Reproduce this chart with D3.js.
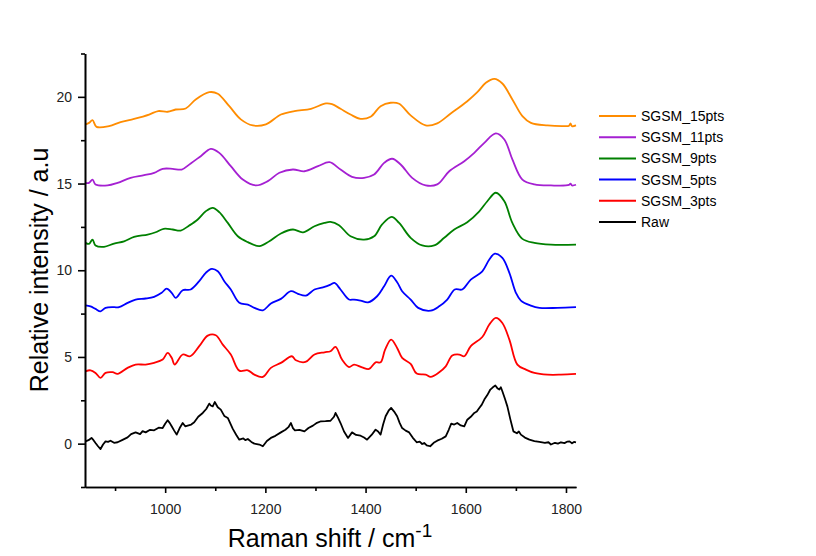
<!DOCTYPE html>
<html lang="en">
<head>
<meta charset="UTF-8">
<title>Raman spectra smoothing</title>
<script src="https://d3js.org/d3.v7.min.js"></script>
<style>
    body { margin: 0; background: #fff; }
    .axis path, .axis line { stroke: #000; stroke-width: 1.6px; }
    .axis text { fill: #222; font-family: "Liberation Sans", Arial, sans-serif; font-size: 14px; }
    .title { font-family: "Liberation Sans", Arial, sans-serif; fill: #000; }
    .legend text { font-family: "Liberation Sans", Arial, sans-serif; font-size: 14px; fill: #000; }
</style>
</head>
<body>
<script>
// wavenumber (cm-1) and relative intensity pairs
const raw = [
  [841,0.13],[847,0.2],[853,0.33],[857,0.2],[861,0.04],[866,-0.15],[871,-0.31],[876,-0.05],[881,0.13],[886,0.1],[891,0.17],[898,0.05],[905,0.08],[915,0.22],[925,0.36],[932,0.55],[941,0.65],[950,0.55],[955,0.72],[961,0.65],
  [970,0.8],[978,0.77],[987,0.92],[995,0.9],[1000,1.15],[1005,1.35],[1009,1.2],[1013,1.0],[1018,0.75],[1023,0.52],[1029,0.9],[1035,1.19],[1040,1.0],[1045,1.04],[1052,1.1],[1058,1.23],[1066,1.55],[1075,1.77],[1082,2.0],[1088,2.31],
  [1091,2.2],[1095,2.15],[1099,2.4],[1105,2.1],[1111,1.96],[1118,1.6],[1125,1.48],[1135,0.85],[1142,0.5],[1148,0.23],[1156,0.3],[1160,0.2],[1165,0.27],[1172,0.1],[1178,0.0],[1188,-0.05],[1195,-0.15],[1203,0.15],[1211,0.33],[1220,0.45],
  [1231,0.65],[1240,0.8],[1246,0.95],[1251,1.19],[1255,0.9],[1259,0.77],[1268,0.8],[1278,0.71],[1286,0.9],[1295,1.04],[1303,1.2],[1311,1.29],[1320,1.3],[1330,1.32],[1337,1.55],[1340,1.77],[1345,1.5],[1350,1.19],[1357,0.7],[1365,0.33],
  [1373,0.65],[1381,0.5],[1390,0.46],[1397,0.35],[1403,0.23],[1412,0.5],[1420,0.81],[1425,0.7],[1430,0.52],[1435,1.1],[1440,1.58],[1446,1.9],[1451,2.06],[1457,1.85],[1463,1.58],[1468,1.2],[1473,0.9],[1480,0.75],[1487,0.65],[1494,0.35],
  [1502,0.08],[1508,0.12],[1513,-0.02],[1517,0.04],[1522,-0.1],[1529,-0.15],[1536,0.05],[1543,0.17],[1552,0.28],[1560,0.42],[1566,0.8],[1571,1.15],[1577,1.1],[1583,1.19],[1590,1.05],[1597,1.0],[1603,1.38],[1610,1.55],[1617,1.77],[1622,1.85],
  [1627,2.06],[1632,2.25],[1637,2.54],[1643,2.8],[1649,3.12],[1654,3.25],[1659,3.35],[1663,3.2],[1667,3.12],[1670,3.25],[1673,3.02],[1678,2.6],[1683,2.15],[1689,1.4],[1695,0.71],[1702,0.6],[1706,0.7],[1710,0.52],[1718,0.35],[1727,0.23],
  [1737,0.15],[1747,0.1],[1758,0.05],[1765,0.08],[1770,-0.05],[1778,0.05],[1784,0.0],[1790,0.08],[1797,0.03],[1803,0.12],[1807,0.13],[1812,0.02],[1816,0.1],[1820,0.08]
]
const sg3 = [
  [841,4.17],[851,4.23],[861,4.08],[871,3.79],[881,4.08],[895,4.12],[905,4.02],[925,4.37],[941,4.56],[961,4.56],
  [978,4.66],[995,4.85],[1005,5.23],[1013,4.95],[1019,4.56],[1035,5.14],[1050,5.04],[1068,5.62],[1085,6.23],[1101,6.25],
  [1115,5.71],[1131,5.14],[1148,4.21],[1165,4.23],[1178,3.98],[1195,3.85],[1211,4.37],[1231,4.66],[1253,5.04],[1261,4.81],
  [1280,4.71],[1298,5.14],[1318,5.27],[1330,5.33],[1340,5.58],[1353,4.85],[1367,4.42],[1377,4.56],[1393,4.4],[1407,4.31],
  [1420,4.69],[1430,4.69],[1439,5.42],[1451,6.0],[1463,5.52],[1473,4.95],[1490,4.6],[1502,4.04],[1520,3.98],[1530,3.85],
  [1547,4.12],[1560,4.46],[1573,5.08],[1587,5.14],[1597,5.04],[1610,5.62],[1633,6.15],[1647,6.87],[1660,7.25],[1673,6.96],
  [1687,6.0],[1703,4.56],[1720,4.27],[1737,4.08],[1763,3.98],[1790,3.98],[1820,4.02]
]
const sg5 = [
  [841,7.98],[851,7.92],[861,7.77],[871,7.63],[881,7.83],[898,7.87],[908,7.87],[925,8.12],[941,8.31],[961,8.37],
  [978,8.47],[993,8.7],[1003,8.94],[1013,8.7],[1021,8.41],[1035,8.85],[1051,8.89],[1068,9.37],[1081,9.85],[1093,10.08],
  [1105,9.94],[1118,9.37],[1131,8.89],[1148,8.12],[1165,8.02],[1178,7.83],[1195,7.69],[1211,8.08],[1231,8.35],[1251,8.79],
  [1265,8.64],[1281,8.54],[1298,8.89],[1318,9.04],[1330,9.17],[1338,9.27],[1350,8.89],[1367,8.31],[1377,8.31],[1390,8.25],
  [1405,8.15],[1423,8.5],[1437,9.08],[1451,9.69],[1463,9.31],[1473,8.79],[1490,8.31],[1505,7.83],[1530,7.67],[1547,7.92],
  [1563,8.31],[1578,8.89],[1593,8.89],[1610,9.46],[1633,9.94],[1647,10.62],[1658,10.96],[1673,10.71],[1687,9.85],[1700,8.7],
  [1710,8.25],[1730,7.96],[1747,7.83],[1783,7.83],[1820,7.87]
]
const sg9 = [
  [841,11.58],[848,11.52],[855,11.77],[861,11.43],[878,11.35],[898,11.54],[918,11.67],[938,11.93],[965,12.06],[981,12.19],
  [997,12.39],[1015,12.35],[1031,12.29],[1048,12.58],[1065,12.93],[1081,13.4],[1095,13.6],[1108,13.35],[1125,12.73],[1145,11.96],
  [1165,11.62],[1188,11.39],[1208,11.67],[1231,12.12],[1255,12.35],[1275,12.19],[1298,12.54],[1318,12.73],[1330,12.79],[1347,12.6],
  [1370,11.96],[1397,11.77],[1417,11.96],[1433,12.64],[1452,13.08],[1467,12.73],[1490,11.87],[1513,11.43],[1537,11.43],[1557,11.87],
  [1577,12.35],[1603,12.77],[1627,13.4],[1643,13.98],[1660,14.47],[1677,13.98],[1693,12.73],[1713,11.81],[1737,11.58],[1770,11.48],
  [1820,11.48]
]
const sg11 = [
  [841,15.04],[848,15.04],[855,15.23],[861,14.95],[885,14.89],[905,15.04],[931,15.33],[958,15.48],[978,15.62],[995,15.85],
  [1015,15.85],[1033,15.81],[1051,16.16],[1071,16.58],[1091,17.0],[1108,16.77],[1131,16.0],[1155,15.23],[1181,14.89],[1205,15.14],
  [1228,15.62],[1255,15.81],[1278,15.71],[1305,16.0],[1328,16.23],[1350,15.81],[1373,15.39],[1397,15.33],[1417,15.52],[1437,16.19],
  [1453,16.43],[1470,16.1],[1493,15.33],[1520,14.89],[1543,14.95],[1567,15.71],[1597,16.29],[1617,16.77],[1637,17.35],[1660,17.89],
  [1677,17.54],[1693,16.39],[1713,15.23],[1737,14.95],[1770,14.89],[1806,14.92],[1809,15.0],[1812,14.89],[1820,14.93]
]
const sg15 = [
  [841,18.41],[848,18.5],[855,18.66],[863,18.27],[888,18.31],[911,18.54],[938,18.73],[968,18.98],[986,19.18],[1005,19.14],
  [1021,19.27],[1041,19.33],[1061,19.85],[1088,20.27],[1105,20.18],[1128,19.46],[1151,18.7],[1175,18.35],[1201,18.41],[1231,18.98],
  [1258,19.18],[1291,19.31],[1321,19.62],[1333,19.58],[1350,19.31],[1370,18.98],[1390,18.73],[1410,18.85],[1430,19.46],[1450,19.66],
  [1467,19.6],[1490,18.93],[1520,18.35],[1543,18.47],[1570,19.04],[1603,19.75],[1623,20.27],[1640,20.81],[1657,21.04],[1673,20.77],
  [1693,19.85],[1713,18.89],[1730,18.5],[1763,18.35],[1797,18.31],[1806,18.33],[1809,18.47],[1812,18.31],[1820,18.35]
]

const seriesNames = ["SGSM_15pts", "SGSM_11pts", "SGSM_9pts", "SGSM_5pts", "SGSM_3pts", "Raw"]
const seriesData = [sg15, sg11, sg9, sg5, sg3, raw]
const seriesColors = ["#ff8c00", "#a520d2", "#008000", "#0000ff", "#ff0000", "#000000"]

const xMajor = [1000, 1200, 1400, 1600, 1800]
const xMinor = [900, 1100, 1300, 1500, 1700]
const yMajor = [0, 5, 10, 15, 20]
const yMinor = [-2.5, 2.5, 7.5, 12.5, 17.5, 22.5]

const W = 816, H = 556
const PLOT = {LEFT: 85, RIGHT: 576, TOP: 53.5, BOTTOM: 487}

const svg = d3.select("body").append("svg")
    .attr("width", W)
    .attr("height", H)

const x = d3.scaleLinear().domain([840, 1820]).range([PLOT.LEFT, PLOT.RIGHT])
const y = d3.scaleLinear().domain([-2.5, 22.5]).range([PLOT.BOTTOM, PLOT.TOP])

const smoothLine = d3.line()
    .x(d => x(d[0]))
    .y(d => y(d[1]))
    .curve(d3.curveCatmullRom.alpha(0.5))

const rawLine = d3.line()
    .x(d => x(d[0]))
    .y(d => y(d[1]))

// spectra
seriesData.forEach((s, i) => {
    svg.append("path")
        .datum(s)
        .attr("fill", "none")
        .attr("stroke", seriesColors[i])
        .attr("stroke-width", 1.8)
        .attr("stroke-linejoin", "round")
        .attr("d", s === raw ? rawLine : smoothLine)
})

// axes
svg.append("g")
    .attr("class", "axis")
    .attr("transform", `translate(0, ${PLOT.BOTTOM})`)
    .call(d3.axisBottom(x).tickValues(xMinor).tickSize(4).tickFormat("").tickSizeOuter(0))
svg.append("g")
    .attr("class", "axis")
    .attr("transform", `translate(0, ${PLOT.BOTTOM})`)
    .call(d3.axisBottom(x).tickValues(xMajor).tickSize(6).tickPadding(11).tickFormat(d3.format("d")).tickSizeOuter(0))

svg.append("g")
    .attr("class", "axis")
    .attr("transform", `translate(${PLOT.LEFT}, 0)`)
    .call(d3.axisLeft(y).tickValues(yMinor).tickSize(4).tickFormat("").tickSizeOuter(0))
svg.append("g")
    .attr("class", "axis")
    .attr("transform", `translate(${PLOT.LEFT}, 0)`)
    .call(d3.axisLeft(y).tickValues(yMajor).tickSize(7).tickPadding(6).tickSizeOuter(0))

// axis titles
const xt = svg.append("text")
    .attr("class", "title")
    .attr("x", 330)
    .attr("y", 547)
    .attr("text-anchor", "middle")
    .attr("font-size", 25)
xt.append("tspan").text("Raman shift / cm")
xt.append("tspan").attr("dy", -10).attr("font-size", 19).text("-1")

svg.append("text")
    .attr("class", "title")
    .attr("transform", "translate(48, 270) rotate(-90)")
    .attr("text-anchor", "middle")
    .attr("font-size", 25)
    .text("Relative intensity / a.u")

// legend
const legend = svg.append("g").attr("class", "legend")
    .attr("transform", "translate(599, 116)")
seriesNames.forEach((n, i) => {
    const row = legend.append("g").attr("transform", `translate(0, ${i * 21.2})`)
    row.append("line")
        .attr("x1", 0).attr("x2", 37)
        .attr("stroke", seriesColors[i])
        .attr("stroke-width", 2)
    row.append("text")
        .attr("x", 42)
        .attr("y", 5)
        .text(n)
})
</script>
</body>
</html>
